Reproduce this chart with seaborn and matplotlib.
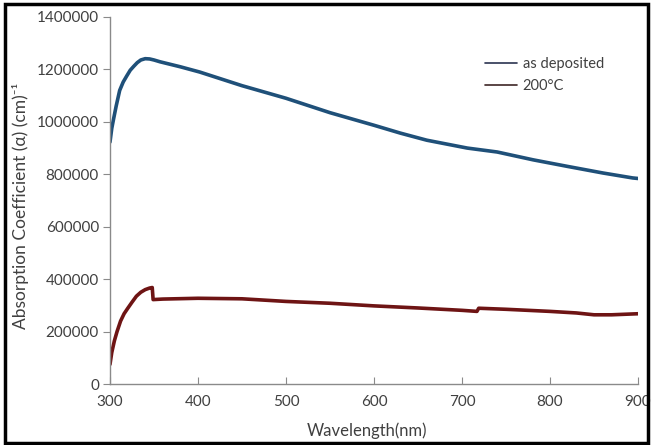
import matplotlib
matplotlib.use("Agg")
import matplotlib.pyplot as plt
import seaborn as sns
import pandas as pd
from matplotlib.lines import Line2D
from matplotlib.patches import Rectangle

# ---- data ----
wl_dep = [300, 302, 304, 307, 311, 315, 319, 323, 327, 331, 335, 340, 345, 350, 357,
          380, 402, 450, 500, 550, 600, 630, 660, 706, 740, 781, 820, 860, 894, 900]
alpha_dep = [923000, 975000, 1010000, 1060000, 1120000, 1152000, 1175000, 1197000,
             1212000, 1226000, 1236000, 1241000, 1240000, 1236000, 1229000,
             1210000, 1190000, 1138000, 1090000, 1035000, 987000, 957000, 930000,
             900000, 885000, 855000, 830000, 805000, 786000, 784000]

wl_200 = [300, 302, 305, 308, 312, 316, 320, 325, 330, 335, 340, 345, 348, 349,
          360, 400, 450, 500, 550, 600, 650, 700, 717, 719, 750, 800, 830, 850, 870, 900]
alpha_200 = [75000, 120000, 165000, 200000, 240000, 268000, 288000, 312000, 335000,
             350000, 360000, 366000, 368000, 322000, 324000, 327000, 325000, 315000,
             308000, 298000, 290000, 281000, 277000, 289000, 285000, 277000, 271000,
             264000, 264000, 268000]

labels = ["as deposited", "200°C"]
x_ticks = [300, 400, 500, 600, 700, 800, 900]
y_ticks = [0, 200000, 400000, 600000, 800000, 1000000, 1200000, 1400000]

df = pd.concat([
    pd.DataFrame({"wl": wl_dep, "alpha": alpha_dep, "s": labels[0]}),
    pd.DataFrame({"wl": wl_200, "alpha": alpha_200, "s": labels[1]}),
])

sns.set_style("white")
plt.rcParams["font.family"] = ["Lato", "DejaVu Sans"]

W, H = 651, 445
fig = plt.figure(figsize=(W/100, H/100), dpi=100)
ax = fig.add_axes([110/W, 1 - 384/H, 528/W, 367/H])

sns.lineplot(data=df, x="wl", y="alpha", hue="s", sort=False, estimator=None,
             palette={labels[0]: "#1f5079", labels[1]: "#6e1414"},
             linewidth=2.6, ax=ax, legend=False)

ax.set_xlim(300, 900)
ax.set_ylim(0, 1400000)
ax.set_xticks(x_ticks)
ax.set_yticks(y_ticks)
ax.set_xticklabels([str(v) for v in x_ticks])
ax.set_yticklabels([str(v) for v in y_ticks])

for s in ["top", "right"]:
    ax.spines[s].set_visible(False)
for s in ["left", "bottom"]:
    ax.spines[s].set_color("#8a8a8a")
    ax.spines[s].set_linewidth(1.0)

ax.tick_params(axis="x", direction="in", length=5, color="#8a8a8a",
               labelsize=11, labelcolor="#404040", pad=8)
ax.tick_params(axis="y", direction="out", length=5, color="#8a8a8a",
               labelsize=11, labelcolor="#404040", pad=3, left=True)
ax.tick_params(axis="x", bottom=True)

ax.set_xlabel("")
ax.set_ylabel("")
fig.text(367/W, 1 - 431/H, "Wavelength(nm)", fontsize=12, color="#404040",
         ha="center", va="center")
fig.text(21/W, 1 - 206/H, "Absorption Coefficient (α) (cm)⁻¹", fontsize=12.5,
         color="#404040", ha="center", va="center", rotation=90)

handles = [Line2D([], [], color="#2b3350", lw=1.2),
           Line2D([], [], color="#3e2626", lw=1.2)]
ax.legend(handles, labels, loc="upper left", bbox_to_anchor=(0.71, 0.89),
          frameon=False, fontsize=10.5, handlelength=2.2, handletextpad=0.4,
          labelspacing=0.5, borderpad=0, borderaxespad=0, labelcolor="#404040")

fig.patches.append(Rectangle((5/W, 2/H), 643/W, 439/H, transform=fig.transFigure,
                             fill=False, edgecolor="black", linewidth=2.5))

fig.savefig("out.png", dpi=100)
